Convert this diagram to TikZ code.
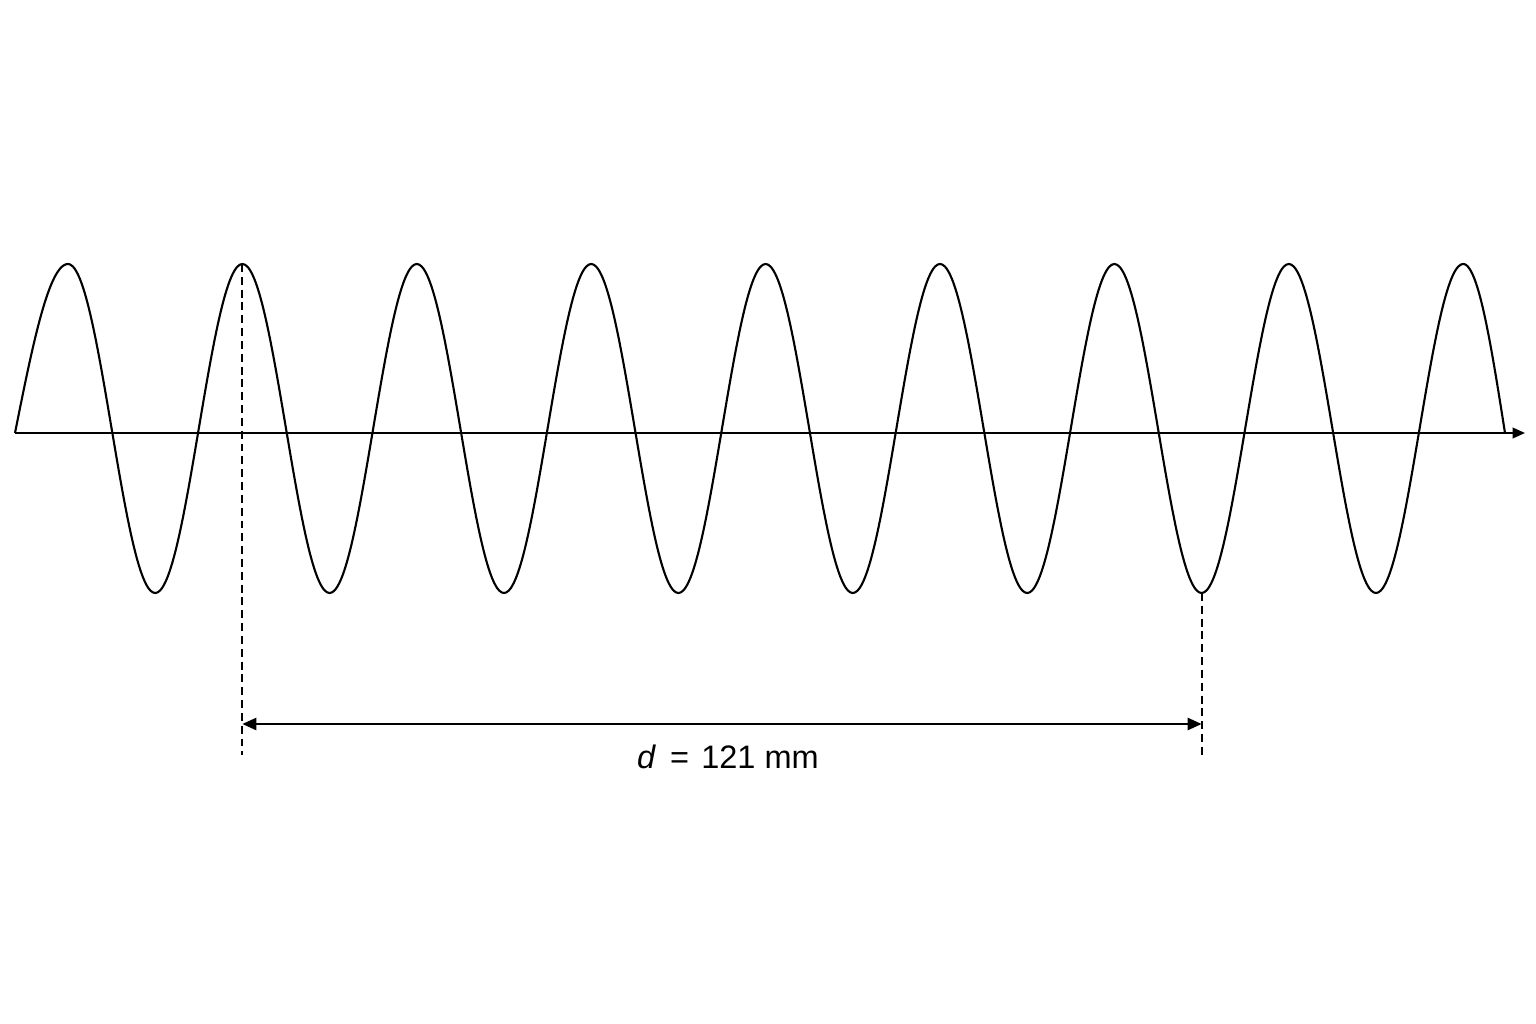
\documentclass[tikz,border=0pt]{standalone}
\usepackage{fontspec}
\setmainfont{Liberation Sans}
\usetikzlibrary{arrows.meta}
\begin{document}
\begin{tikzpicture}[x=0.02cm,y=-0.02cm,
  curve/.style={line width=1.2pt, line join=round},
  axisline/.style={line width=1.1pt,-{Triangle[length=7pt,width=6pt]}},
  guide/.style={line width=1.1pt, dash pattern=on 4.5pt off 2.8pt},
  dimline/.style={line width=1.1pt,{Triangle[length=8pt,width=7pt]}-{Triangle[length=8pt,width=7pt]}},
  dimlabel/.style={font=\fontsize{18.5}{21}\selectfont, inner sep=0pt}]
\useasboundingbox (0,0) rectangle (1536,1024);
% axis
\coordinate (o) at (15,433);
\coordinate (e) at (1525,433);
\draw[axisline] (o) -- (e);
% wave
\draw[curve] plot[domain=0:90, samples=40, smooth] ({15+\x/90*53},{433-169*sin(\x)})
  -- plot[domain=0:2880, samples=577, smooth] ({68+\x/360*174.4},{428.5-164.5*cos(\x)})
  -- plot[domain=90:180, samples=40, smooth] ({1463.2+(\x-90)/90*41.8},{433-169*sin(\x)});
% guide lines
\coordinate (pk) at (242.4,264);
\coordinate (tr) at (1201.6,593);
\coordinate (pkb) at (242.4,755);
\coordinate (trb) at (1201.6,755);
\draw[guide] (pk) -- (pkb);
\draw[guide] (tr) -- (trb);
% dimension
\coordinate (da) at (242.4,724);
\coordinate (db) at (1201.6,724);
\draw[dimline] (da) -- (db);
\node[dimlabel] (lbl) at (728,757) {\textit{d}\hspace{0.15em} = \hspace{0.1em}121 mm};
\end{tikzpicture}
\end{document}
